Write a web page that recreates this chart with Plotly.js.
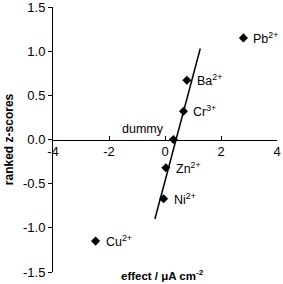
<!DOCTYPE html>
<html>
<head>
<meta charset="utf-8">
<script src="https://cdn.plot.ly/plotly-3.0.1.min.js"></script>
<style>html,body{margin:0;padding:0;background:#fff;}#chart{width:283px;height:284px;}</style>
</head>
<body>
<div id="chart"></div>
<script>
const ions = ["Pb<sup>2+</sup>", "Ba<sup>2+</sup>", "Cr<sup>3+</sup>", "dummy", "Zn<sup>2+</sup>", "Ni<sup>2+</sup>", "Cu<sup>2+</sup>"];
const effect = [2.80, 0.78, 0.66, 0.30, 0.03, -0.05, -2.48];
const zscores = [1.15, 0.67, 0.32, 0.0, -0.32, -0.67, -1.15];
const fitX = [-0.36, 1.26];
const fitY = [-0.90, 1.03];
const xTicks = [-4, -2, 0, 2, 4];
const yTicks = [-1.5, -1.0, -0.5, 0.0, 0.5, 1.0, 1.5];

const FONT = "Arial, 'Liberation Sans', sans-serif";

const traces = [
  {x: fitX, y: fitY, mode: "lines", line: {color: "#000", width: 1.5}, hoverinfo: "skip", showlegend: false},
  {x: effect, y: zscores, mode: "markers", marker: {symbol: "diamond", size: 7, color: "#000"}, showlegend: false}
];

const annotations = ions.map((t, i) => {
  const isDummy = t === "dummy";
  return {
    x: effect[i], y: zscores[i], xref: "x", yref: "y", text: t, showarrow: false,
    xanchor: isDummy ? "right" : "left", yanchor: "middle",
    xshift: isDummy ? -7 : 8, yshift: isDummy ? 11 : 0,
    font: {family: FONT, size: 12.5, color: "#000"}
  };
});
annotations.push({
  x: 0.49, y: 0, xref: "paper", yref: "paper", yanchor: "middle", xanchor: "center", yshift: -3,
  text: "<b>effect / μA cm<sup>-2</sup></b>", showarrow: false, font: {family: FONT, size: 11.5, color: "#000"}
});
annotations.push({
  x: -0.198, y: 0.5, xref: "paper", yref: "paper", xanchor: "center", yanchor: "middle", textangle: -90,
  text: "<b>ranked z-scores</b>", showarrow: false, font: {family: FONT, size: 12, color: "#000"}
});

const layout = {
  width: 283, height: 284,
  margin: {l: 52.5, r: 6, t: 7.3, b: 11.7, pad: 0},
  paper_bgcolor: "#fff", plot_bgcolor: "#fff",
  font: {family: FONT, size: 12, color: "#000"},
  showlegend: false,
  xaxis: {
    range: [-4, 4], tickvals: xTicks, ticktext: xTicks.map(String),
    anchor: "free", position: 0.5,
    showline: true, linecolor: "#000", linewidth: 1,
    ticks: "inside", ticklen: 4, tickcolor: "#000", tickwidth: 1,
    showgrid: false, zeroline: false, tickfont: {size: 13}, ticklabeloverflow: "allow"
  },
  yaxis: {
    range: [-1.5, 1.5], tickvals: yTicks, ticktext: yTicks.map(v => v.toFixed(1)),
    showline: true, linecolor: "#000", linewidth: 1,
    ticks: "outside", ticklen: 4, tickcolor: "#000", tickwidth: 1,
    showgrid: false, zeroline: false, tickfont: {size: 13}, ticklabeloverflow: "allow"
  },
  annotations: annotations
};

Plotly.newPlot("chart", traces, layout, {displayModeBar: false, staticPlot: true});
</script>
</body>
</html>
